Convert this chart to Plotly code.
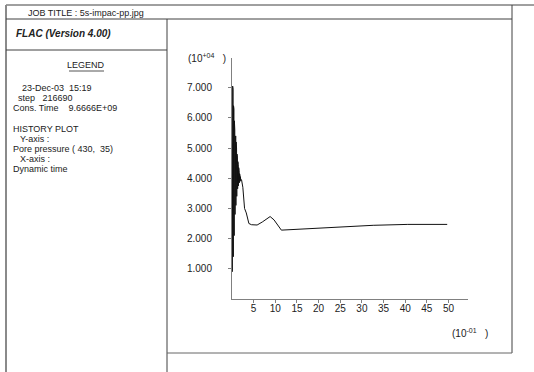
import plotly.graph_objects as go

# History record: dynamic time (units of 1e-1) and pore pressure at zone (430, 35) (units of 1e4)
time_early = [0.10, 0.15, 0.20, 0.25, 0.30, 0.35, 0.40, 0.45, 0.50, 0.55,
              0.60, 0.65, 0.70, 0.75, 0.80, 0.85, 0.90, 0.95, 1.00, 1.05,
              1.10, 1.15, 1.20, 1.25, 1.30, 1.35, 1.40, 1.45, 1.50, 1.55,
              1.60, 1.65, 1.70, 1.75, 1.80, 1.85, 1.90, 1.95, 2.00]
pp_early = [0.90, 7.05, 1.10, 6.95, 1.40, 6.40, 2.00, 6.30, 2.10, 5.90,
            2.60, 5.60, 2.80, 5.40, 3.00, 5.40, 3.10, 5.20, 3.30, 5.00,
            3.40, 4.80, 3.55, 4.70, 3.65, 4.55, 3.70, 4.45, 3.75, 4.35,
            3.80, 4.25, 3.85, 4.15, 3.88, 4.10, 3.90, 4.05, 3.95]
time_late = [2.2, 2.5, 2.9, 3.3, 3.9, 4.5, 5.8, 7.0, 8.8, 9.7, 11.4,
             15.8, 19.5, 23.4, 27.4, 32.6, 40.6, 49.7]
pp_late = [3.95, 3.70, 3.00, 2.85, 2.50, 2.46, 2.45, 2.55, 2.73, 2.62, 2.28,
           2.31, 2.34, 2.37, 2.41, 2.44, 2.47, 2.47]

x_ticks = [5, 10, 15, 20, 25, 30, 35, 40, 45, 50]
y_ticks = [1, 2, 3, 4, 5, 6, 7]
y_tick_text = ["1.000", "2.000", "3.000", "4.000", "5.000", "6.000", "7.000"]

legend_lines = [
    ("23-Dec-03  15:19", 20, 88),
    ("step   216690", 16, 98),
    ("Cons. Time    9.6666E+09", 11, 108),
    ("HISTORY PLOT", 11, 129),
    ("Y-axis :", 18, 139),
    ("Pore pressure ( 430,  35)", 11, 149),
    ("X-axis :", 18, 159),
    ("Dynamic time", 11, 169),
]

W, H = 534, 372
L, R, T, B = 232, 468, 58, 299  # plot area in pixels
FONT = "Liberation Sans, Arial, sans-serif"
INK = "#222222"
FRAME = "#404040"


def px(x):
    return (x - L) / (R - L)


def py(y):
    return (B - y) / (B - T)


fig = go.Figure()
fig.add_trace(go.Scatter(
    x=time_early + time_late,
    y=pp_early + pp_late,
    mode="lines",
    line=dict(color="#111111", width=1),
    hoverinfo="skip",
    showlegend=False,
))

shapes = []


def seg(x0, y0, x1, y1, color=FRAME, width=1):
    shapes.append(dict(type="line", xref="paper", yref="paper",
                       x0=px(x0), y0=py(y0), x1=px(x1), y1=py(y1),
                       line=dict(color=color, width=width)))


seg(6, 5, 534, 5)
seg(6, 5, 6, 372, color="#8a8a8a", width=2)
seg(6, 19, 512, 19)
seg(512, 5, 512, 353)
seg(167, 19, 167, 372)
seg(6, 50, 167, 50)
seg(167, 353, 512, 353, color="#666666")
seg(69, 71, 104, 71, color="#555555")

annotations = []


def text(s, x, y, size=9, anchor="left", bold_italic=False):
    if bold_italic:
        s = "<b><i>" + s + "</i></b>"
    annotations.append(dict(text=s, xref="paper", yref="paper",
                            x=px(x), y=py(y), xanchor=anchor, yanchor="middle",
                            showarrow=False,
                            font=dict(family=FONT, size=size, color=INK)))


text("JOB TITLE : 5s-impac-pp.jpg", 26, 13, size=9)
text("FLAC (Version 4.00)", 14, 34, size=10, bold_italic=True)
text("LEGEND", 86, 65, size=9, anchor="center")
for s, x, y in legend_lines:
    text(s, x, y, size=9)
text("(10<sup>+04</sup>&nbsp;&nbsp;&nbsp;)", 186, 58, size=10)
text("(10<sup>-01</sup>&nbsp;&nbsp;&nbsp;)", 450, 333, size=10)

fig.update_layout(
    width=W, height=H,
    margin=dict(l=L, r=W - R, t=T, b=H - B, pad=0),
    paper_bgcolor="white", plot_bgcolor="white",
    shapes=shapes, annotations=annotations,
    xaxis=dict(range=[0, 54.5], tickvals=x_ticks, showgrid=False, zeroline=False,
               showline=True, linecolor="#808080", linewidth=1,
               ticks="outside", ticklen=3, tickcolor="#808080",
               ticklabelstandoff=-3,
               tickfont=dict(family=FONT, size=10, color=INK)),
    yaxis=dict(range=[0, 7.98], tickvals=y_ticks, ticktext=y_tick_text,
               showgrid=False, zeroline=False,
               showline=True, linecolor="#808080", linewidth=1,
               ticks="outside", ticklen=3, tickcolor="#808080",
               ticklabelstandoff=14,
               tickfont=dict(family=FONT, size=10, color=INK)),
)

fig.write_html("out.html")
